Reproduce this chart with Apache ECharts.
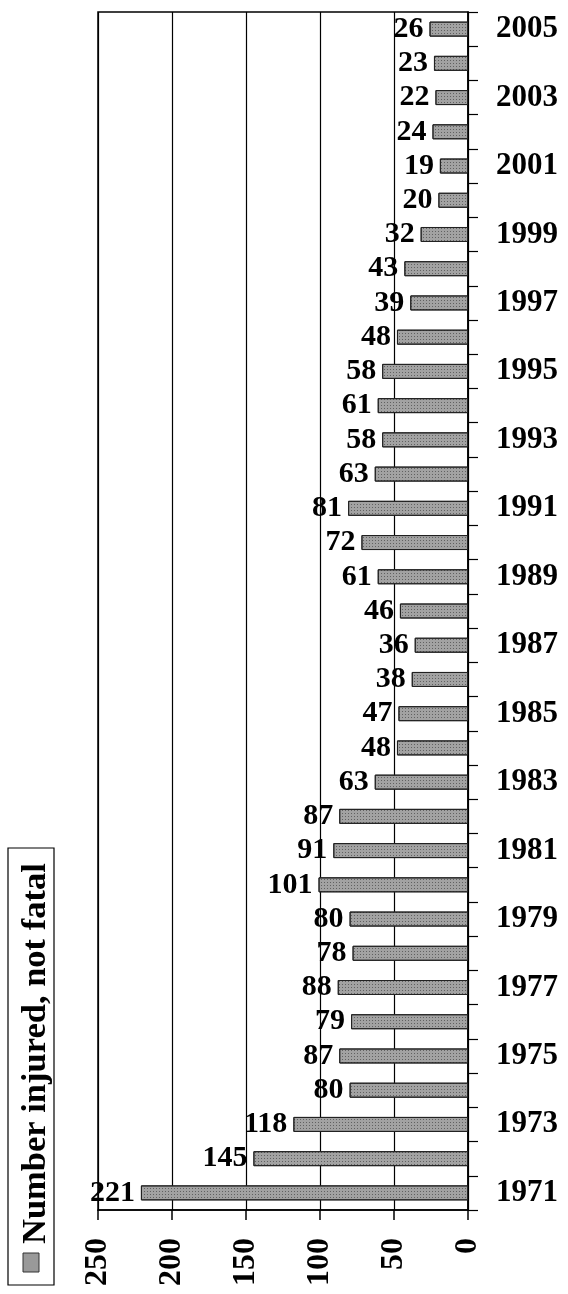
<!DOCTYPE html>
<html>
<head>
<meta charset="utf-8">
<script src="https://cdn.jsdelivr.net/npm/echarts@6/dist/echarts.min.js"></script>
<style>
html,body{margin:0;padding:0;background:#fff;}
#chart{width:568px;height:1294px;}
</style>
</head>
<body>
<div id="chart"></div>
<script>
// Data (years bottom to top)
const years = ['1971','1972','1973','1974','1975','1976','1977','1978','1979','1980','1981','1982','1983','1984','1985','1986','1987','1988','1989','1990','1991','1992','1993','1994','1995','1996','1997','1998','1999','2000','2001','2002','2003','2004','2005'];
const injured = [221,145,118,80,87,79,88,78,80,101,91,87,63,48,47,38,36,46,61,72,81,63,58,61,58,48,39,43,32,20,19,24,22,23,26];
const seriesName = 'Number injured, not fatal';
const valueTicks = [0, 50, 100, 150, 200, 250];

const FONT = 'Liberation Serif';
const chart = echarts.init(document.getElementById('chart'), null, {renderer:'canvas'});
chart.setOption({
  backgroundColor:'#fff',
  animation:false,
  grid:{left:98, right:100, top:12, bottom:84, show:true, borderColor:'#000', borderWidth:1.5, backgroundColor:'transparent'},
  xAxis:{
    type:'value', inverse:true,
    min:valueTicks[0], max:valueTicks[valueTicks.length-1], interval:50,
    axisLine:{show:true, lineStyle:{color:'#000', width:1.5}},
    axisTick:{show:true, length:10, lineStyle:{color:'#000', width:1.5}},
    splitLine:{show:true, lineStyle:{color:'#000', width:1.2}},
    axisLabel:{rotate:90, margin:28, color:'#000', fontFamily:FONT, fontWeight:'bold', fontSize:32}
  },
  yAxis:{
    type:'category', position:'right', data:years,
    axisLine:{show:true, lineStyle:{color:'#000', width:1.5}},
    axisTick:{show:true, interval:0, length:10, lineStyle:{color:'#000', width:1.2}},
    splitLine:{show:false},
    axisLabel:{interval:1, margin:28, color:'#000', fontFamily:FONT, fontWeight:'bold', fontSize:31}
  },
  series:[{
    name:seriesName, type:'bar', data:injured, barWidth:15,
    itemStyle:{color:'#a2a2a2', borderColor:'#222', borderWidth:1,
      decal:{symbol:'rect', symbolSize:1, dashArrayX:[1,2], dashArrayY:[1,2], color:'rgba(0,0,0,0.4)'}},
    label:{show:true, position:'left', distance:6, color:'#000', fontFamily:FONT, fontWeight:'bold', fontSize:30}
  }],
  graphic:[
    {type:'rect', shape:{x:8, y:848, width:46, height:437}, style:{fill:'none', stroke:'#000', lineWidth:1.2}},
    {type:'rect', shape:{x:23, y:1253, width:16, height:19}, style:{fill:'#999', stroke:'#333', lineWidth:1}},
    {type:'text', x:36, y:1244, rotation:Math.PI/2,
      style:{text:seriesName, fontFamily:FONT, fontWeight:'bold', fontSize:34.5, fill:'#000', textAlign:'left', textVerticalAlign:'middle'}}
  ]
});
</script>
</body>
</html>
